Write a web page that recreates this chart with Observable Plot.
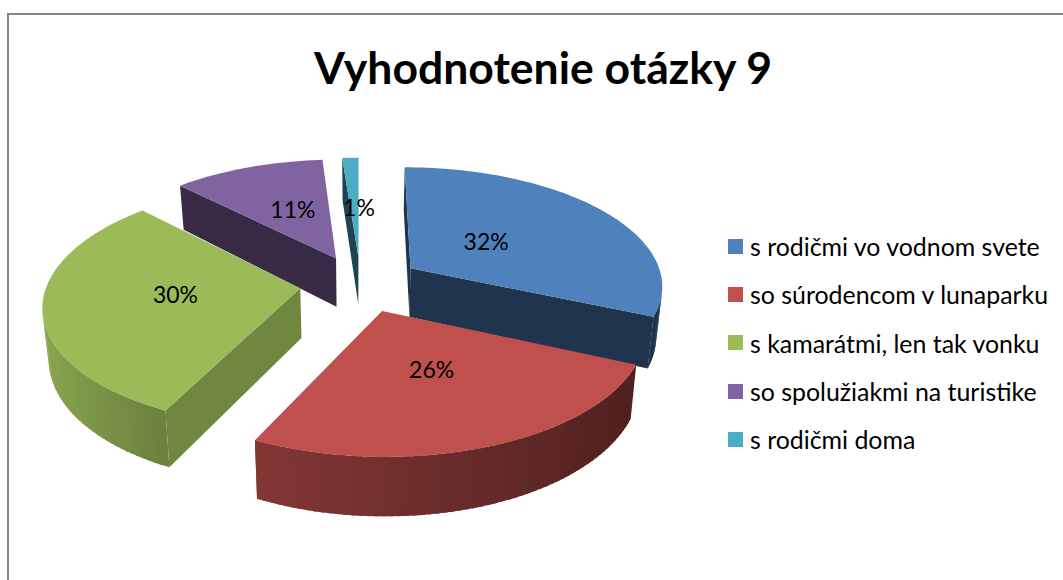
<!DOCTYPE html>
<html lang="sk">
<head>
<meta charset="utf-8">
<script src="https://cdn.jsdelivr.net/npm/d3@7"></script>
<script src="https://cdn.jsdelivr.net/npm/@observablehq/plot@0.6"></script>
<style>
  html, body { margin: 0; padding: 0; background: #fff; overflow: hidden; }
  #page { position: relative; width: 1063px; height: 580px; font-family: Lato, "Noto Sans", sans-serif; color: #000; }
  #page svg { position: absolute; left: 0; top: 0; display: block; }
  #frame { position: absolute; left: 7px; top: 13px; right: 0; bottom: 0; border-left: 2px solid #868686; border-top: 2px solid #868686; }
  #title { position: absolute; left: 14px; width: 1058px; top: 38px; text-align: center; font-size: 44.5px; font-weight: 700; line-height: 58px; white-space: nowrap; }
  #legend { position: absolute; left: 728px; top: 222px; }
  .row { display: flex; align-items: center; height: 48.3px; font-size: 24.9px; white-space: nowrap; }
  .swatch { width: 15px; height: 15px; margin-right: 7px; flex: none; }
</style>
</head>
<body>
<div id="page">
  <div id="frame"></div>
  <div id="title">Vyhodnotenie otázky 9</div>
  <div id="legend"></div>
</div>
<script>
// ---- data ----
const categories = ["s rodičmi vo vodnom svete", "so súrodencom v lunaparku", "s kamarátmi, len tak vonku", "so spolužiakmi na turistike", "s rodičmi doma"];
const shares = [31.6, 25.6, 30.4, 11.2, 1.2];
const colors = ["#4f81bd", "#c0504d", "#9bbb59", "#8064a2", "#4bacc6"];

// ---- look of the 3-D exploded pie ----
const explode = 0.24, perspective = 0.134, thickness = 0.42, bottomShrink = 0.98;
const cutShade = [0.41, 0.5, 0.72, 0.42, 0.40];
const labelRadius = [0.38, 0.5, 0.49, 0.46, 0.42];
const labelTurn = [0, 0, -1, 0, 2.5];
const drawOrder = [4, 3, 0, 2, 1];
const rimShade = d3.scaleLinear([-1, -0.42, 0.906], [0.9, 0.68, 0.41]);
const rad = d => d * Math.PI / 180;

function shade(color, f) {
  const c = d3.rgb(color);
  return d3.rgb(c.r * f, c.g * f, c.b * f).formatHex();
}
function project(X, Y, bottom) {
  const s = 1 / (1 + perspective * Y);
  return {
    x: X * s * (bottom ? bottomShrink : 1),
    y: Y * s - (bottom ? thickness * s : 0)
  };
}
function area(p) {
  let a = 0;
  p.forEach((q, i) => { const r = p[(i + 1) % p.length]; a += q.x * r.y - r.x * q.y; });
  return a;
}

// Angles follow from the shares.
let cum = 0;
const slices = shares.map((v, i) => {
  const a0 = cum * 3.6; cum += v; const a1 = cum * 3.6;
  return { i, a0, a1, mid: (a0 + a1) / 2 };
});

const vertices = [];
let faceId = 0;
function addFace(points, fill) {
  const id = faceId++;
  [...points, points[0]].forEach(p => vertices.push({ x: p.x, y: p.y, face: id, fill }));
}
const labels = [];

for (const k of drawOrder) {
  const sl = slices[k], col = colors[k];
  const ox = explode * Math.sin(rad(sl.mid)), oy = explode * Math.cos(rad(sl.mid));
  const rim = (a, b) => project(ox + Math.sin(rad(a)), oy + Math.cos(rad(a)), b);
  const apex = b => project(ox, oy, b);

  // outer wall, in narrow strips so that the shade can change along it;
  // each strip runs past the next one so no seam shows between them
  const angles = d3.range(sl.a0, sl.a1, 1.5).concat(sl.a1);
  d3.pairs(angles).forEach(([a, b]) => {
    const q = [rim(a, false), rim(b, false), rim(b, true), rim(a, true)];
    if (area(q) > 0) {
      const over = Math.min(b + 1, sl.a1);
      addFace([rim(a, false), rim(over, false), rim(over, true), rim(a, true)],
              shade(col, rimShade(Math.sin(rad((a + b) / 2)))));
    }
  });

  // cut faces
  const startFace = [apex(false), rim(sl.a0, false), rim(sl.a0, true), apex(true)];
  const endFace = [apex(false), apex(true), rim(sl.a1, true), rim(sl.a1, false)];
  if (area(startFace) > 0) addFace(startFace, shade(col, cutShade[k]));
  if (area(endFace) > 0) addFace(endFace, shade(col, cutShade[k]));

  // top face
  addFace([apex(false), ...angles.map(a => rim(a, false))], col);

  const lr = labelRadius[k], la = rad(sl.mid + labelTurn[k]);
  const lp = project(ox + lr * Math.sin(la), oy + lr * Math.cos(la), false);
  labels.push({ x: lp.x, y: lp.y, text: Math.round(shares[k]) + "%" });
}

const plot = Plot.plot({
  width: 1063,
  height: 580,
  margin: 0,
  style: { background: "transparent" },
  x: { domain: [-360 / 253, 703 / 253], range: [0, 1063], axis: null },
  y: { domain: [283 / 118.3, -297 / 118.3], range: [0, 580], axis: null },
  color: { type: "identity" },
  marks: [
    Plot.line(vertices, { x: "x", y: "y", z: "face", fill: "fill", curve: "linear", strokeWidth: 0 }),
    Plot.text(labels, { x: "x", y: "y", dy: -3, text: "text", fontSize: 23, fill: "#000", fontFamily: "Lato, 'Noto Sans', sans-serif" })
  ]
});
document.getElementById("page").appendChild(plot);

const legend = d3.select("#legend");
categories.forEach((c, i) => {
  const row = legend.append("div").attr("class", "row");
  row.append("div").attr("class", "swatch").style("background", colors[i]);
  row.append("div").text(c);
});
</script>
</body>
</html>
